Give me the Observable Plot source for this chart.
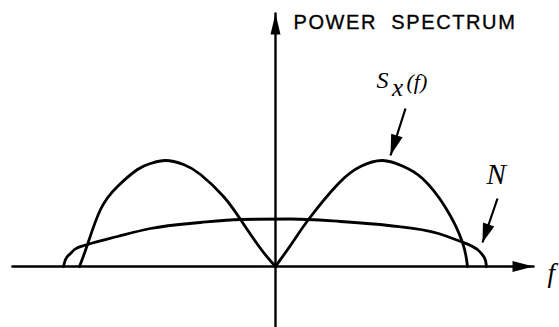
<!DOCTYPE html>
<html>
<head>
<meta charset="utf-8">
<script src="https://cdn.jsdelivr.net/npm/d3@7"></script>
<script src="https://cdn.jsdelivr.net/npm/@observablehq/plot@0.6"></script>
<style>
  html, body { margin: 0; padding: 0; background: #fff; }
  #chart svg { display: block; }
</style>
</head>
<body>
<div id="chart"></div>
<script>
// ---- data (f in arbitrary units, origin at 0) ----
const sxLeftF  = [-1.96, -1.88, -1.75, -1.58, -1.38, -1.25, -1.10, -0.92, -0.75, -0.52, -0.35, -0.15, 0];
const sxLeftV  = [0, 0.22, 0.57, 0.80, 0.97, 1.03, 1.06, 1.02, 0.92, 0.70, 0.47, 0.18, 0];
const sxRightF = [0, 0.17, 0.33, 0.63, 0.85, 1.07, 1.28, 1.47, 1.70, 1.87, 1.92];
const sxRightV = [0, 0.24, 0.47, 0.83, 1.00, 1.06, 1.00, 0.88, 0.59, 0.24, 0];
const noiseF   = [-2.12, -2.10, -2.05, -2.01, -1.88, -1.58, -1.25, -0.75, -0.35, 0.15, 0.65, 1.13, 1.63, 1.85, 1.95, 2.05, 2.10, 2.11];
const noiseV   = [0, 0.07, 0.13, 0.17, 0.22, 0.30, 0.38, 0.44, 0.47, 0.475, 0.45, 0.41, 0.33, 0.25, 0.21, 0.14, 0.06, 0];

// axes extents (tip of each arrow)
const xAxisF = [-2.63, 2.58];
const yAxisV = [-0.62, 2.53];

// annotation arrows: [tailF, tailV, tipF, tipV]
const sxArrow = [1.30, 1.58, 1.15, 1.11];
const nArrow  = [2.22, 0.68, 2.07, 0.24];

// labels
const titleLabel = "POWER\u00a0\u00a0SPECTRUM";
const titlePos   = [0.18, 2.38];
const sxLabelS   = "S", sxLabelSub = "x", sxLabelArg = "(f)";
const sxPosS     = [1.01, 1.79];
const sxPosSub   = [1.165, 1.71];
const sxPosArg   = [1.31, 1.78];
const nLabel     = "N";
const nPos       = [2.11, 0.83];
const fLabel     = "f";
const fPos       = [2.72, -0.15];

// ---- helpers ----
const toPts = (fs, vs) => fs.map((f, i) => ({f, v: vs[i]}));
function head(angleDeg, L, w) {
  const a = angleDeg * Math.PI / 180;
  const dx = Math.cos(a), dy = Math.sin(a);
  return {
    draw(ctx) {
      const bx = -dx * L, by = -dy * L, px = -dy * w, py = dx * w;
      ctx.moveTo(0, 0);
      ctx.lineTo(bx + px, by + py);
      ctx.lineTo(bx - px, by - py);
      ctx.closePath();
    }
  };
}
// screen angle of a data-space arrow (1 unit = same px on both axes)
const angleOf = a => Math.atan2(-(a[3] - a[1]), a[2] - a[0]) * 180 / Math.PI;

const serif = "'Liberation Serif', 'Times New Roman', serif";
const sans  = "'Liberation Sans', Arial, sans-serif";
const lw = 2.8;

const txt = (s, pos, o) => Plot.text([s], {x: () => pos[0], y: () => pos[1], text: d => d, textAnchor: "start", lineAnchor: "bottom", fill: "black", ...o});

const plot = Plot.plot({
  width: 559,
  height: 327,
  margin: 0,
  marginTop: 0, marginRight: 0, marginBottom: 0, marginLeft: 0,
  x: {domain: [-2.75, 2.84], axis: null},
  y: {domain: [-0.61, 2.66], axis: null},
  style: {background: "white", color: "black", overflow: "visible"},
  marks: [
    // axes
    Plot.line(toPts(xAxisF, [0, 0]), {x: "f", y: "v", stroke: "black", strokeWidth: 2.6}),
    Plot.line(toPts([0, 0], yAxisV), {x: "f", y: "v", stroke: "black", strokeWidth: 2.4}),
    Plot.dot([{f: xAxisF[1], v: 0}], {x: "f", y: "v", symbol: head(0, 21, 5.5), fill: "black", stroke: "none"}),
    Plot.dot([{f: 0, v: yAxisV[1]}], {x: "f", y: "v", symbol: head(-90, 21, 5), fill: "black", stroke: "none"}),
    // curves
    Plot.line(toPts(noiseF, noiseV), {x: "f", y: "v", curve: "monotone-x", stroke: "black", strokeWidth: lw}),
    Plot.line(toPts(sxLeftF, sxLeftV), {x: "f", y: "v", curve: "natural", stroke: "black", strokeWidth: lw}),
    Plot.line(toPts(sxRightF, sxRightV), {x: "f", y: "v", curve: "natural", stroke: "black", strokeWidth: lw}),
    // annotation arrows
    Plot.link([sxArrow], {x1: d => d[0], y1: d => d[1], x2: d => d[2], y2: d => d[3], stroke: "black", strokeWidth: 2.2}),
    Plot.dot([sxArrow], {x: d => d[2], y: d => d[3], symbol: head(angleOf(sxArrow), 21, 6), fill: "black", stroke: "none"}),
    Plot.link([nArrow], {x1: d => d[0], y1: d => d[1], x2: d => d[2], y2: d => d[3], stroke: "black", strokeWidth: 2.2}),
    Plot.dot([nArrow], {x: d => d[2], y: d => d[3], symbol: head(angleOf(nArrow), 19, 6), fill: "black", stroke: "none"}),
    // labels
    txt(titleLabel, titlePos, {fontFamily: sans, fontSize: 20, stroke: "black", strokeWidth: 0.35}),
    txt(sxLabelS, sxPosS, {fontFamily: serif, fontStyle: "italic", fontSize: 24}),
    txt(sxLabelSub, sxPosSub, {fontFamily: serif, fontStyle: "italic", fontSize: 25}),
    txt(sxLabelArg, sxPosArg, {fontFamily: serif, fontStyle: "italic", fontSize: 22}),
    txt(nLabel, nPos, {fontFamily: serif, fontStyle: "italic", fontSize: 29}),
    txt(fLabel, fPos, {fontFamily: serif, fontStyle: "italic", fontSize: 27})
  ]
});

d3.select(plot).selectAll("text")
  .filter(function() { return this.textContent.startsWith("POWER"); })
  .attr("letter-spacing", "1.6px");

document.getElementById("chart").appendChild(plot);
</script>
</body>
</html>
